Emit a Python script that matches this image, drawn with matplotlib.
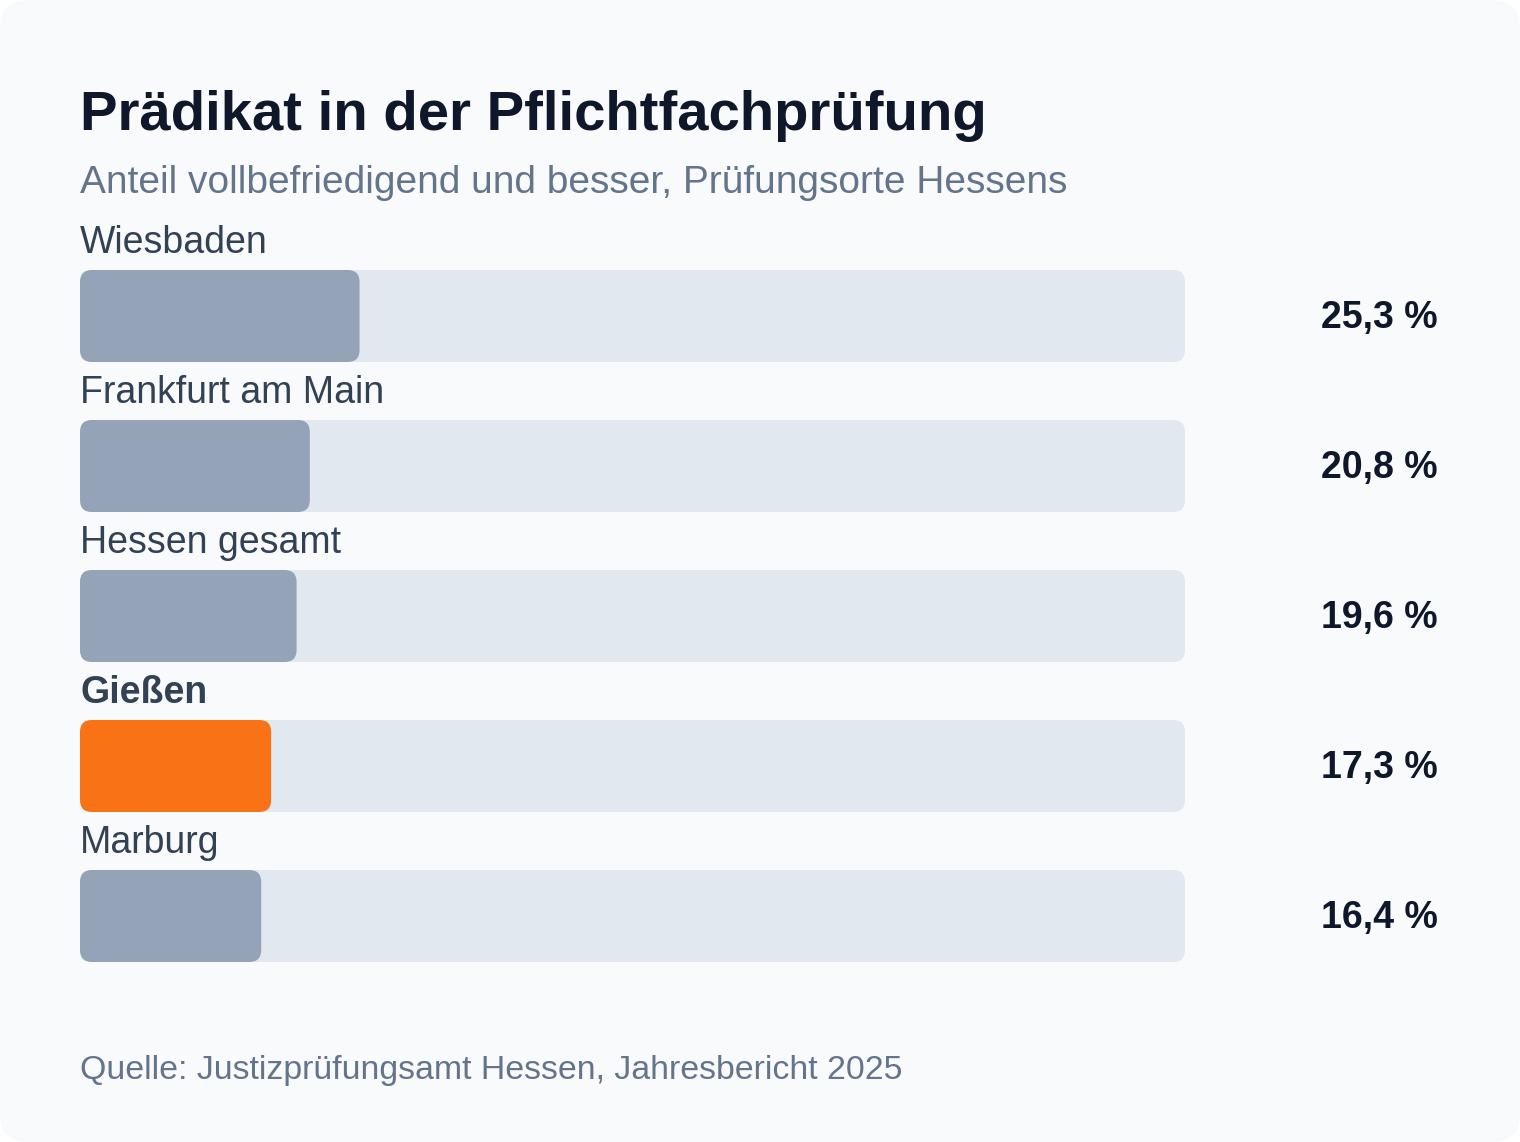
import matplotlib
matplotlib.use("Agg")
import matplotlib.pyplot as plt
from matplotlib.patches import FancyBboxPatch

plt.rcParams['font.family'] = ['Liberation Sans', 'DejaVu Sans']

categories = ["Wiesbaden", "Frankfurt am Main", "Hessen gesamt", "Gießen", "Marburg"]
values = [25.3, 20.8, 19.6, 17.3, 16.4]
highlight = "Gießen"
value_labels = ["25,3 %", "20,8 %", "19,6 %", "17,3 %", "16,4 %"]

W, H = 1520, 1142
fig = plt.figure(figsize=(W/100, H/100), dpi=100)
fig.patch.set_facecolor("white")
bg = fig.add_axes([0, 0, 1, 1])
bg.set_xlim(0, W); bg.set_ylim(H, 0); bg.axis("off")
bg.add_patch(FancyBboxPatch((0, 0), W, H, boxstyle="round,pad=0,rounding_size=28",
                            fc="#f8fafc", ec="none"))

ax = fig.add_axes([80/W, 0, 1105/W, 1])
ax.set_xlim(0, 100); ax.set_ylim(H, 0); ax.axis("off")
pxx = 1105/100
r = 12
for i, (c, v, lab) in enumerate(zip(categories, values, value_labels)):
    top = 270 + 150*i
    ax.add_patch(FancyBboxPatch((0, top), 100, 92, boxstyle=f"round,pad=0,rounding_size={r/pxx}",
                                mutation_aspect=pxx, fc="#e2e8f0", ec="none"))
    col = "#f97316" if c == highlight else "#94a3b8"
    ax.add_patch(FancyBboxPatch((0, top), v, 92, boxstyle=f"round,pad=0,rounding_size={r/pxx}",
                                mutation_aspect=pxx, fc=col, ec="none"))
    ax.text(0, top - 27, c, fontsize=27, color="#334155", va="center", ha="left",
            fontweight="bold" if c == highlight else "normal", clip_on=False)
    fig.text(1438/W, 1 - (top + 48)/H, lab, fontsize=27, fontweight="bold", color="#0f172a",
             ha="right", va="center")

fig.text(80/W, 1 - 116/H, "Prädikat in der Pflichtfachprüfung", fontsize=40.5, fontweight="bold",
         color="#0f172a", va="center")
fig.text(80/W, 1 - 183/H, "Anteil vollbefriedigend und besser, Prüfungsorte Hessens", fontsize=28,
         color="#64748b", va="center")
fig.text(80/W, 1 - 1070/H, "Quelle: Justizprüfungsamt Hessen, Jahresbericht 2025", fontsize=24.4,
         color="#64748b", va="center")
fig.savefig("out.png", dpi=100)
